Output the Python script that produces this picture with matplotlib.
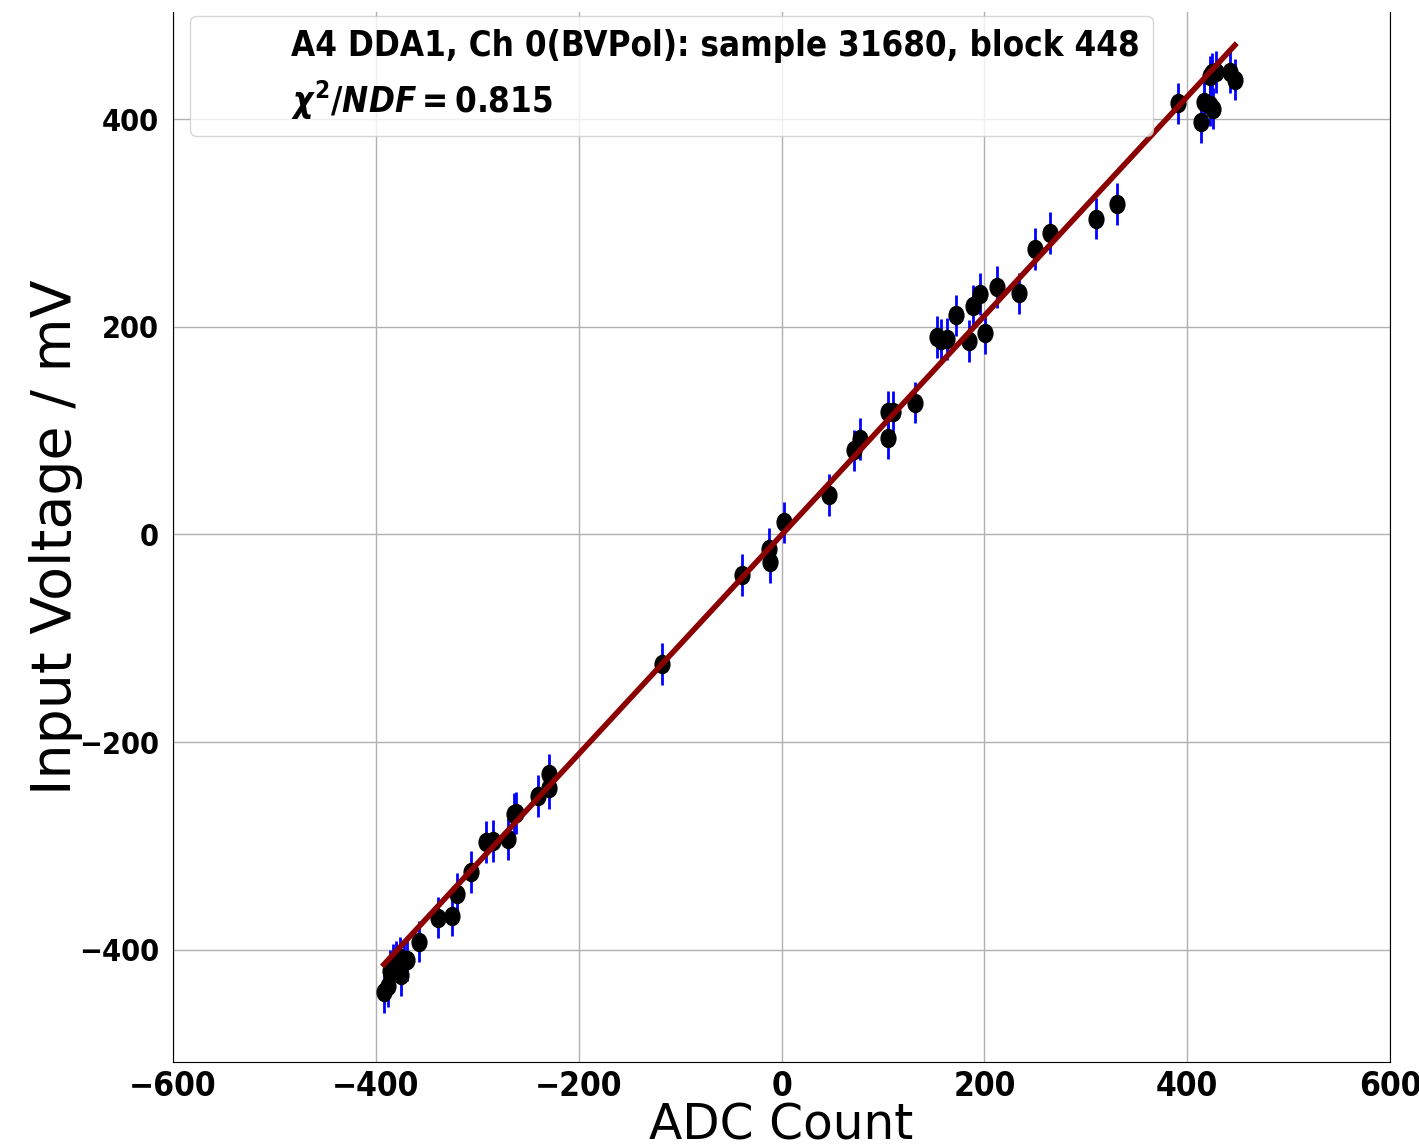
import numpy as np
import matplotlib
matplotlib.use("Agg")
import matplotlib.pyplot as plt
from matplotlib.path import Path
from matplotlib.lines import Line2D

# data
adc = [-392, -388, -386, -383, -380, -376, -375, -372, -369, -357,
       -339, -325, -320, -306, -291, -284, -270, -264, -262, -240,
       -229, -229, -117.5, -39, -12.3, -11.3, 2.5, 47,
       71, 77, 105, 105, 110, 132,
       153, 157, 163, 172, 185, 188.5, 196, 201, 212, 234.5, 250, 265,
       310, 330.5,
       391, 414, 417, 422.5, 425, 422.5, 424, 428, 442, 447]
volt = [-441, -435, -420, -414, -411, -408, -424, -411, -410, -392,
        -369, -367, -346, -325, -296, -295, -293, -269, -268, -252,
        -244, -231, -125, -39, -14, -26.5, 11.7, 38,
        81, 92, 93, 118, 118, 127,
        190, 187, 188, 211, 186, 220, 231.5, 194, 238, 232, 275, 290.5,
        304, 318,
        415, 397, 416, 413.5, 410, 441, 444, 445.5, 445.5, 438]
volt_err = 20.0

fit_slope = 1.055
fit_intercept = -0.5

title_text = "A4 DDA1, Ch 0(BVPol): sample 31680, block 448"
chi2_text = r"$\chi^2/NDF = 0.815$"

plt.rcParams['font.family'] = ['DejaVu Sans']
plt.rcParams['font.stretch'] = 'condensed'
# bold maths: greek + latin bold italic, digits bold
plt.rcParams['mathtext.fontset'] = 'custom'
plt.rcParams['mathtext.rm'] = 'DejaVu Sans:bold:stretch=condensed'
plt.rcParams['mathtext.it'] = 'DejaVu Sans:bold:italic:stretch=condensed'
plt.rcParams['mathtext.bf'] = 'DejaVu Sans:bold:stretch=condensed'

fig = plt.figure(figsize=(14.19, 11.48), dpi=100)
ax = fig.add_axes([0.1219, 0.0749, 0.8577, 0.9146])

# slightly tall ellipse marker, like the reference
circ = Path.unit_circle()
ell = Path(circ.vertices * np.array([0.82, 1.0]), circ.codes)

ax.errorbar(adc, volt, yerr=volt_err, fmt='none', ecolor='blue', elinewidth=2, zorder=3)
ax.plot(adc, volt, linestyle='none', marker=ell, markersize=13, color='black', zorder=4)

xfit = np.array([min(adc), max(adc)])
ax.plot(xfit, fit_slope * xfit + fit_intercept, color='darkred', lw=4, zorder=5)

ax.set_xlim(-600, 600)
ax.set_ylim(-508, 503)
ax.set_xticks([-600, -400, -200, 0, 200, 400, 600])
ax.set_yticks([-400, -200, 0, 200, 400])
ax.grid(True, color='#b0b0b0', lw=1)
ax.set_axisbelow(True)
ax.spines['top'].set_visible(False)
ax.tick_params(length=0, labelsize=24)
ax.tick_params(axis='x', pad=6)
ax.tick_params(axis='y', pad=10, labelsize=22)
for lab in ax.get_xticklabels() + ax.get_yticklabels():
    lab.set_fontweight('bold')

ax.set_xlabel("ADC Count", fontsize=35, fontstretch='normal', labelpad=-1)
ax.set_ylabel("Input Voltage / mV", fontsize=40, fontstretch='normal', labelpad=-3)

h = [Line2D([], [], linestyle='none'), Line2D([], [], linestyle='none')]
leg = ax.legend(h, [title_text, chi2_text], loc='upper left',
                bbox_to_anchor=(0.011, 1.0),
                prop={'size': 25, 'weight': 'bold', 'stretch': 'condensed'},
                handlelength=1.7, handletextpad=0.8, borderaxespad=0.1,
                labelspacing=0.45, framealpha=0.8)

fig.savefig("out.png", dpi=100)
